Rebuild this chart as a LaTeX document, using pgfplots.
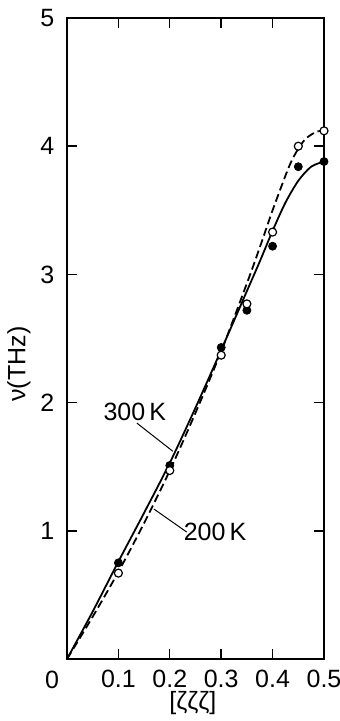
\documentclass[border=0pt]{standalone}
\usepackage{fontspec}
\setmainfont{Liberation Sans}
\usepackage{pgfplots}
\pgfplotsset{compat=1.18}
\begin{document}
\fontsize{12.5}{14}\selectfont
\begin{tikzpicture}
\path[use as bounding box] (-33.5pt,-31pt) rectangle (136pt,329.5pt);
\begin{axis}[
  scale only axis, width=128.5pt, height=320.5pt,
  xmin=0, xmax=0.5, ymin=0, ymax=5,
  xtick={0,0.1,0.2,0.3,0.4,0.5},
  xticklabels={,0.1,0.2,0.3,0.4,0.5},
  ytick={1,2,3,4,5},
  tick align=inside, major tick length=5pt,
  tick style={line width=0.7pt, black},
  axis line style={line width=0.7pt},
  tick pos=both,
  /pgf/number format/assume math mode=true,
  tick label style={font=\fontsize{12.5}{14}\selectfont},
  xticklabel style={yshift=-1pt},
  yticklabel style={xshift=-2pt},
  clip=false,
]
% 300 K curve (solid)
\addplot[black, line width=0.9pt, smooth] coordinates {
(0,0) (0.05,0.37) (0.1,0.76) (0.15,1.14) (0.2,1.53) (0.25,1.96) (0.3,2.41)
(0.35,2.87) (0.375,3.10) (0.4,3.34) (0.425,3.56) (0.45,3.73) (0.475,3.84) (0.5,3.88)};
% 200 K curve (dashed)
\addplot[black, line width=0.9pt, dash pattern=on 4pt off 2pt, smooth] coordinates {
(0,0) (0.05,0.33) (0.1,0.68) (0.15,1.06) (0.2,1.47) (0.25,1.92) (0.3,2.40)
(0.35,2.93) (0.375,3.21) (0.4,3.50) (0.425,3.77) (0.4375,3.89) (0.45,3.98) (0.4625,4.05) (0.475,4.09) (0.4875,4.115) (0.5,4.12)};
% 300 K data (filled)
\addplot[only marks, mark=*, mark size=2pt, black] coordinates {
(0.1,0.75) (0.2,1.51) (0.3,2.43) (0.35,2.72) (0.4,3.22) (0.45,3.84) (0.5,3.88)};
% 200 K data (open)
\addplot[only marks, mark=*, mark size=2pt, black, line width=0.6pt, mark options={fill=white}] coordinates {
(0.1,0.67) (0.2,1.47) (0.3,2.37) (0.35,2.77) (0.4,3.33) (0.45,4.00) (0.5,4.12)};
\draw[line width=0.5pt] (axis cs:0.136,1.84) -- (axis cs:0.206,1.62);
\draw[line width=0.5pt] (axis cs:0.233,0.99) -- (axis cs:0.169,1.17);
\node at (axis cs:0.132,1.93) {300\,K};
\node at (axis cs:0.288,0.99) {200\,K};
\node at (axis cs:0,0) [xshift=-7.5pt, yshift=-10.5pt] {0};
\node at (axis cs:0.245,0) [yshift=-22pt] {[ζζζ]};
\node at (axis cs:0,2.3) [xshift=-24pt, rotate=90] {ν(THz)};
\end{axis}
\end{tikzpicture}
\end{document}
